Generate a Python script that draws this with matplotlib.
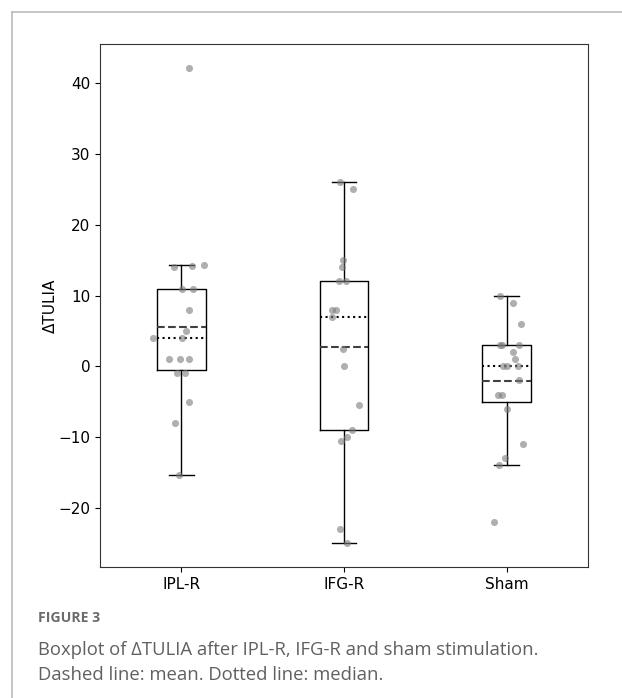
import matplotlib.pyplot as plt
from matplotlib.lines import Line2D

groups = ["IPL-R", "IFG-R", "Sham"]

# values (one point per subject)
ipl_r = [42.2, 14.0, 14.2, 14.3, 11, 11, 8, 5, 4, 4, 1, 1, 1, -1, -1, -5, -8, -15.4]
ifg_r = [26, 25, 15, 14, 12, 12, 8, 8, 7, 2.4, 0, -5.5, -9, -10, -10.5, -23, -25]
sham = [10, 9, 6, 3, 3, 3, 2, 1, 0, 0, 0, -2, -4, -4, -6, -11, -13, -14, -22]

# horizontal jitter of the strip points, as seen in the picture
ipl_r_jit = [0.05, -0.044, 0.067, 0.137, 0.002, 0.072, 0.047, 0.026, -0.174, 0.002,
             -0.078, -0.010, 0.045, -0.025, 0.023, 0.047, -0.041, -0.014]
ifg_r_jit = [-0.026, 0.055, -0.006, -0.010, -0.031, 0.014, -0.075, -0.047, -0.075,
             -0.008, -0.002, 0.094, 0.047, 0.020, -0.017, -0.025, 0.020]
sham_jit = [-0.043, 0.039, 0.088, -0.039, -0.029, 0.075, 0.039, 0.051, -0.023, 0.002,
            0.067, 0.074, -0.053, -0.026, 0.004, 0.100, -0.012, -0.047, -0.078]

data = [ipl_r, ifg_r, sham]
jitter = [ipl_r_jit, ifg_r_jit, sham_jit]

fig = plt.figure(figsize=(6.22, 6.98), dpi=100)
ax = fig.add_axes([100 / 622, 1 - 567 / 698, 488 / 622, 523 / 698])

ax.boxplot(data, positions=[1, 2, 3], widths=0.3, showfliers=False,
           showmeans=True, meanline=True,
           boxprops=dict(color="black", linewidth=1),
           whiskerprops=dict(color="black", linewidth=1),
           capprops=dict(color="black", linewidth=1),
           medianprops=dict(color="black", linestyle=":", linewidth=1.5),
           meanprops=dict(color="#404040", linestyle="--", linewidth=1.5))

for i, (vals, jit) in enumerate(zip(data, jitter)):
    xs = [i + 1 + j for j in jit]
    ax.scatter(xs, vals, s=26, color="#7a7a7a", alpha=0.6, linewidths=0, zorder=3)

ax.set_xticks([1, 2, 3])
ax.set_xticklabels(groups)
ax.set_xlim(0.5, 3.5)
ax.set_ylabel("ΔTULIA", fontsize=11, labelpad=0)
ax.tick_params(labelsize=11)
for sp in ax.spines.values():
    sp.set_color("#333333")

# frame of the figure panel and caption
fig.add_artist(Line2D([12 / 622, 12 / 622], [0, 1 - 12 / 698], transform=fig.transFigure,
                      color="#bbbbbb", linewidth=1.2))
fig.add_artist(Line2D([12 / 622, 1], [1 - 12 / 698, 1 - 12 / 698], transform=fig.transFigure,
                      color="#bbbbbb", linewidth=1.2))

fig.text(38 / 622, 1 - 618 / 698, "FIGURE 3", fontsize=10.1, fontweight="bold",
         family="Open Sans", color="#6b6b6b", va="center")
fig.text(38 / 622, 1 - 650 / 698, "Boxplot of ΔTULIA after IPL-R, IFG-R and sham stimulation.",
         fontsize=13.3, family="Open Sans", color="#606060", va="center")
fig.text(38 / 622, 1 - 675 / 698, "Dashed line: mean. Dotted line: median.",
         fontsize=13.3, family="Open Sans", color="#606060", va="center")

fig.savefig("out.png", dpi=100)
